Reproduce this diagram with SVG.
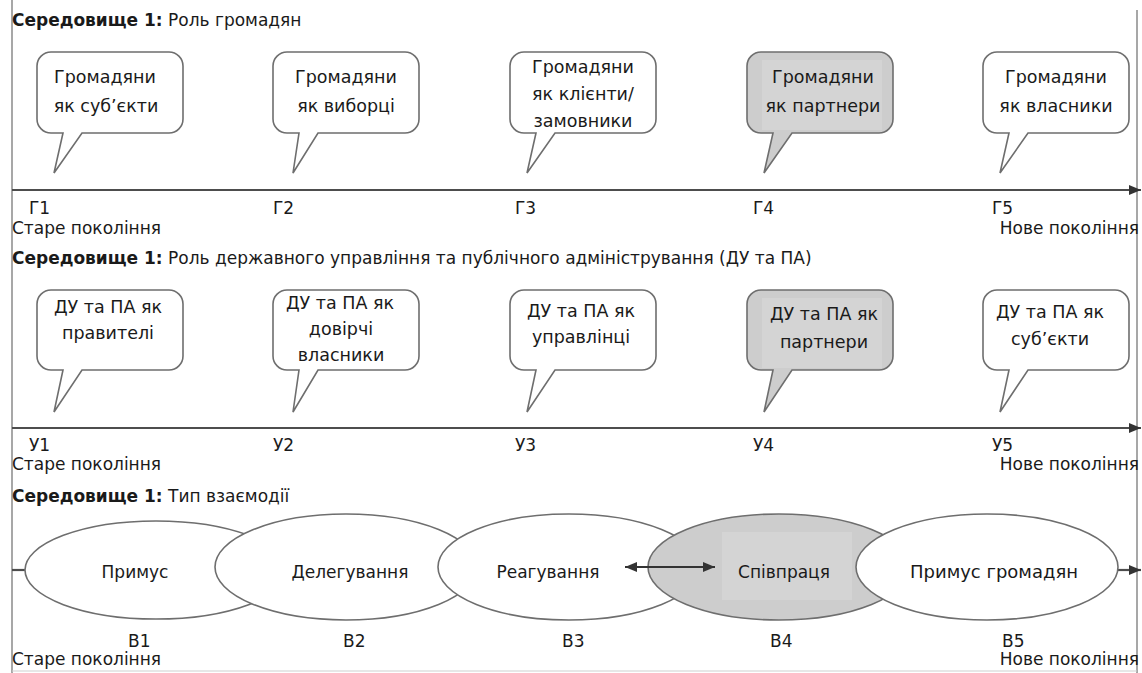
<svg xmlns="http://www.w3.org/2000/svg" width="1142" height="673" viewBox="0 0 1142 673">
<style>
text{font-family:"DejaVu Sans","Liberation Sans",sans-serif;fill:#1a1a1a;font-size:17px}
.b{font-weight:bold}
.c{text-anchor:middle}
.e{text-anchor:end}
.bt{font-size:17.5px;text-anchor:middle}
.bub{fill:#fff;stroke:#6e6e6e;stroke-width:1.6}
.bubg{fill:#cdcdcd;stroke:#6e6e6e;stroke-width:1.6}
.inr{fill:#d4d4d4}
.ax{stroke:#4d4d4d;stroke-width:2.2;fill:none}
.fr{stroke:#8a8a8a;stroke-width:1.5;fill:none}
.el{fill:#fff;stroke:#6e6e6e;stroke-width:1.6}
.elg{fill:#cdcdcd;stroke:#6e6e6e;stroke-width:1.6}
</style>
<defs>
<marker id="ah" viewBox="0 0 12 10" refX="12" refY="5" markerWidth="12" markerHeight="10" markerUnits="userSpaceOnUse" orient="auto-start-reverse">
<path d="M0,0 L12,5 L0,10 Z" fill="#333"/>
</marker>
</defs>
<rect width="1142" height="673" fill="#fff"/>
<g id="frame">
<line class="fr" x1="12" y1="0" x2="12" y2="673"/>
<line class="fr" x1="1137" y1="10" x2="1137" y2="673"/>
<line x1="12" y1="671" x2="1137" y2="671" stroke="#d0d0d0" stroke-width="1.2"/>
</g>
<g id="connectors">
<line class="ax" x1="12" y1="190" x2="1141" y2="190" marker-end="url(#ah)"/>
<line class="ax" x1="12" y1="428" x2="1141" y2="428" marker-end="url(#ah)"/>
<line class="ax" x1="12" y1="570" x2="25" y2="570"/>
<line class="ax" x1="1118" y1="570" x2="1141" y2="570" marker-end="url(#ah)"/>
</g>
<g id="section1">
<text x="12" y="26"><tspan class="b">Середовище 1:</tspan> Роль громадян</text>
<g id="g1">
<path class="bub" d="M51,52 H169 A14,14 0 0 1 183,66 V119 A14,14 0 0 1 169,133 H82 L54,173 L63,133 H51 A14,14 0 0 1 37,119 V66 A14,14 0 0 1 51,52 Z"/>
<text class="bt" x="105" y="83">Громадяни</text>
<text class="bt" x="106" y="112">як суб’єкти</text>
</g>
<g id="g2">
<path class="bub" d="M287,52 H405 A14,14 0 0 1 419,66 V119 A14,14 0 0 1 405,133 H318 L293,173 L299,133 H287 A14,14 0 0 1 273,119 V66 A14,14 0 0 1 287,52 Z"/>
<text class="bt" x="346" y="83">Громадяни</text>
<text class="bt" x="346" y="112">як виборці</text>
</g>
<g id="g3">
<path class="bub" d="M524,52 H642 A14,14 0 0 1 656,66 V119 A14,14 0 0 1 642,133 H555 L527,173 L536,133 H524 A14,14 0 0 1 510,119 V66 A14,14 0 0 1 524,52 Z"/>
<text class="bt" x="583" y="73">Громадяни</text>
<text class="bt" x="583" y="100">як клієнти/</text>
<text class="bt" x="583" y="127">замовники</text>
</g>
<g id="g4">
<path class="bubg" d="M761,52 H879 A14,14 0 0 1 893,66 V119 A14,14 0 0 1 879,133 H792 L764,173 L773,133 H761 A14,14 0 0 1 747,119 V66 A14,14 0 0 1 761,52 Z"/>
<rect class="inr" x="762" y="60" width="120" height="70"/>
<text class="bt" x="823" y="83">Громадяни</text>
<text class="bt" x="823" y="112">як партнери</text>
</g>
<g id="g5">
<path class="bub" d="M997,52 H1115 A14,14 0 0 1 1129,66 V119 A14,14 0 0 1 1115,133 H1028 L1000,173 L1009,133 H997 A14,14 0 0 1 983,119 V66 A14,14 0 0 1 997,52 Z"/>
<text class="bt" x="1056" y="83">Громадяни</text>
<text class="bt" x="1056" y="112">як власники</text>
</g>
<text x="29" y="214">Г1</text>
<text x="273" y="214">Г2</text>
<text x="515" y="214">Г3</text>
<text x="753" y="214">Г4</text>
<text x="992" y="214">Г5</text>
<text x="12" y="234">Старе покоління</text>
<text class="e" x="1139" y="234">Нове покоління</text>
</g>
<g id="section2">
<text x="12" y="264"><tspan class="b">Середовище 1:</tspan> Роль державного управління та публічного адміністрування (ДУ та ПА)</text>
<g id="u1">
<path class="bub" d="M51,290 H169 A14,14 0 0 1 183,304 V356 A14,14 0 0 1 169,370 H82 L54,412 L63,370 H51 A14,14 0 0 1 37,356 V304 A14,14 0 0 1 51,290 Z"/>
<text class="bt" x="108" y="313">ДУ та ПА як</text>
<text class="bt" x="108" y="339">правителі</text>
</g>
<g id="u2">
<path class="bub" d="M287,290 H405 A14,14 0 0 1 419,304 V356 A14,14 0 0 1 405,370 H318 L293,412 L299,370 H287 A14,14 0 0 1 273,356 V304 A14,14 0 0 1 287,290 Z"/>
<text class="bt" x="340" y="309">ДУ та ПА як</text>
<text class="bt" x="341" y="335">довірчі</text>
<text class="bt" x="341" y="361">власники</text>
</g>
<g id="u3">
<path class="bub" d="M524,290 H642 A14,14 0 0 1 656,304 V356 A14,14 0 0 1 642,370 H555 L527,412 L536,370 H524 A14,14 0 0 1 510,356 V304 A14,14 0 0 1 524,290 Z"/>
<text class="bt" x="581" y="317">ДУ та ПА як</text>
<text class="bt" x="581" y="343">управлінці</text>
</g>
<g id="u4">
<path class="bubg" d="M761,290 H879 A14,14 0 0 1 893,304 V356 A14,14 0 0 1 879,370 H792 L764,412 L773,370 H761 A14,14 0 0 1 747,356 V304 A14,14 0 0 1 761,290 Z"/>
<rect class="inr" x="762" y="298" width="120" height="70"/>
<text class="bt" x="824" y="320">ДУ та ПА як</text>
<text class="bt" x="824" y="348">партнери</text>
</g>
<g id="u5">
<path class="bub" d="M997,290 H1115 A14,14 0 0 1 1129,304 V356 A14,14 0 0 1 1115,370 H1028 L1000,412 L1009,370 H997 A14,14 0 0 1 983,356 V304 A14,14 0 0 1 997,290 Z"/>
<text class="bt" x="1050" y="318">ДУ та ПА як</text>
<text class="bt" x="1050" y="345">суб’єкти</text>
</g>
<text x="29" y="451">У1</text>
<text x="273" y="451">У2</text>
<text x="515" y="451">У3</text>
<text x="753" y="451">У4</text>
<text x="992" y="451">У5</text>
<text x="12" y="470">Старе покоління</text>
<text class="e" x="1139" y="470">Нове покоління</text>
</g>
<g id="section3">
<text x="12" y="502"><tspan class="b">Середовище 1:</tspan> Тип взаємодії</text>
<g id="v1">
<ellipse class="el" cx="156" cy="570" rx="131" ry="49"/>
<text class="c" x="135" y="578">Примус</text>
</g>
<g id="v2">
<ellipse class="el" cx="346" cy="567" rx="131" ry="53"/>
<text class="c" x="350" y="578">Делегування</text>
</g>
<g id="v3">
<ellipse class="el" cx="569" cy="567" rx="131" ry="53"/>
<text class="c" x="548" y="578">Реагування</text>
</g>
<g id="v4">
<ellipse class="elg" cx="779" cy="567" rx="131" ry="53"/>
<rect class="inr" x="722" y="532" width="130" height="68"/>
<text class="c" x="784" y="578">Співпраця</text>
</g>
<g id="v5">
<ellipse class="el" cx="987" cy="567" rx="131" ry="53"/>
<text class="c" x="994" y="578" style="font-size:18px">Примус громадян</text>
</g>
<g id="arrows">
<line x1="625" y1="567" x2="715" y2="567" stroke="#333" stroke-width="2" marker-start="url(#ah)" marker-end="url(#ah)"/>
</g>
<text x="128" y="647">В1</text>
<text x="343" y="647">В2</text>
<text x="562" y="647">В3</text>
<text x="770" y="647">В4</text>
<text x="1002" y="647">В5</text>
<text x="12" y="665">Старе покоління</text>
<text class="e" x="1139" y="665">Нове покоління</text>
</g>
</svg>
